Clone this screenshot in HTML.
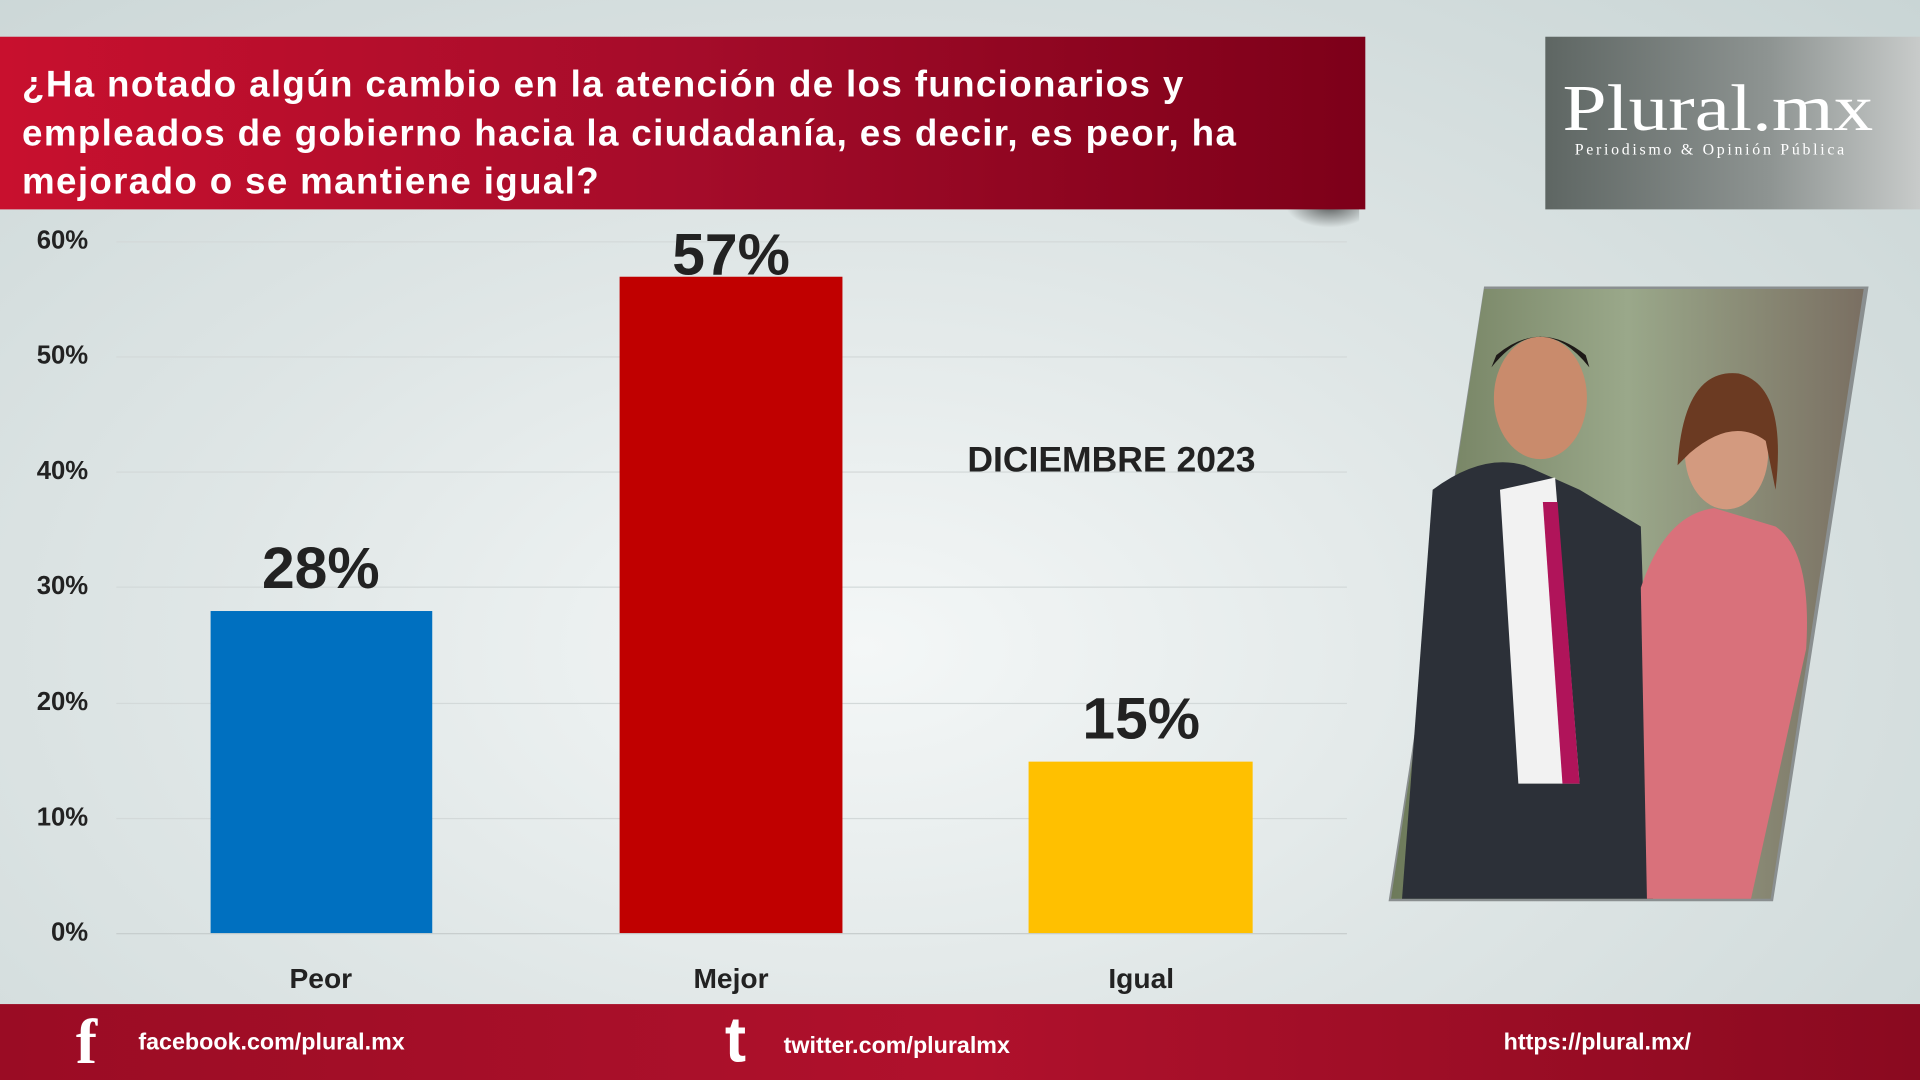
<!DOCTYPE html>
<html><head><meta charset="utf-8"><style>
html,body{margin:0;padding:0;width:1920px;height:1080px;overflow:hidden;}
#w{position:absolute;left:0;top:0;width:1568px;height:882px;transform:scale(1.22449);transform-origin:0 0;
background:radial-gradient(ellipse at 45% 60%,#f4f7f7 0%,#dfe6e6 45%,#c9d5d5 100%);font-family:"Liberation Sans",sans-serif;overflow:hidden;}
.a{position:absolute;}
.hdr{left:0;top:30px;width:1115px;height:141px;background:linear-gradient(90deg,#c8102e 0%,#a50c2a 50%,#7d0019 100%);color:#fff;font-weight:bold;font-size:30px;line-height:39.5px;padding:20px 0 0 18px;box-sizing:border-box;white-space:nowrap;letter-spacing:1.1px;}
.logo{left:1262px;top:30px;width:306px;height:141px;background:linear-gradient(90deg,#5e6663,#8e9492 60%,#c8cbca);color:#fff;}
.yl{left:0;width:72px;text-align:right;font-weight:bold;font-size:21px;color:#222;}
.g{left:95px;width:1005px;height:1px;background:#d3d9d9;}
.bar{position:absolute;}
.v{position:absolute;font-weight:bold;font-size:48px;color:#222;text-align:center;width:200px;}
.xl{position:absolute;top:786px;font-weight:bold;font-size:23px;color:#222;text-align:center;width:200px;}
.ft{left:0;top:820px;width:1568px;height:62px;background:linear-gradient(90deg,#9a0c24,#b0112c 50%,#8a0a20);color:#fff;font-weight:bold;font-size:19px;}
</style></head><body><div id="w">
<div class="a" style="left:1050px;top:168px;width:60px;height:18px;background:radial-gradient(ellipse at 60% 0,rgba(0,0,0,.6),rgba(0,0,0,0) 70%)"></div>
<div class="a hdr">¿Ha notado algún cambio en la atención de los funcionarios y<br>empleados de gobierno hacia la ciudadanía, es decir, es peor, ha<br>mejorado o se mantiene igual?</div>
<div class="a logo"><div class="a" style="left:14px;top:28px;font-family:'Liberation Serif',serif;font-size:54px;line-height:60px;transform:scaleX(1.2);transform-origin:0 0">Plural.mx</div>
<div class="a" style="left:24px;top:84px;font-family:'Liberation Serif',serif;font-size:13px;letter-spacing:2.2px">Periodismo &amp; Opinión Pública</div></div>
<div class="a yl" style="top:185px">60%</div><div class="a g" style="top:197px"></div>
<div class="a yl" style="top:279px">50%</div><div class="a g" style="top:291px"></div>
<div class="a yl" style="top:373px">40%</div><div class="a g" style="top:385px"></div>
<div class="a yl" style="top:467px">30%</div><div class="a g" style="top:479px"></div>
<div class="a yl" style="top:562px">20%</div><div class="a g" style="top:574px"></div>
<div class="a yl" style="top:656px">10%</div><div class="a g" style="top:668px"></div>
<div class="a yl" style="top:750px">0%</div><div class="a g" style="top:762px;background:#c6cccc"></div>
<div class="bar" style="left:172px;top:499px;width:181px;height:263px;background:#0070c0"></div>
<div class="bar" style="left:506px;top:226px;width:182px;height:536px;background:#c00000"></div>
<div class="bar" style="left:840px;top:622px;width:183px;height:140px;background:#ffc000"></div>
<div class="v" style="left:162px;top:437px">28%</div>
<div class="v" style="left:497px;top:181px">57%</div>
<div class="v" style="left:832px;top:560px">15%</div>
<div class="xl" style="left:162px">Peor</div>
<div class="xl" style="left:497px">Mejor</div>
<div class="xl" style="left:832px">Igual</div>
<div class="a" style="left:790px;top:360px;font-weight:bold;font-size:29px;color:#222">DICIEMBRE 2023</div>
<svg class="a" style="left:1130px;top:230px" width="400" height="512">
<defs><linearGradient id="p" x1="0" y1="0" x2="1" y2="0"><stop offset="0" stop-color="#6d7a5a"/><stop offset=".5" stop-color="#9aa88a"/><stop offset="1" stop-color="#7a6f62"/></linearGradient></defs>
<polygon points="82,4 396,4 318,506 4,506" fill="#8a8f90"/>
<polygon points="82,6 392,6 316,504 6,504" fill="url(#p)"/>
<path d="M15,504 L40,170 Q80,140 115,150 L160,170 L210,200 L220,504 Z" fill="#2c3038"/>
<ellipse cx="128" cy="95" rx="38" ry="50" fill="#c98b6c"/>
<path d="M88,70 Q128,20 168,70 L165,60 Q128,30 92,60Z" fill="#1e1a18"/>
<path d="M95,170 L140,160 L160,410 L110,410 Z" fill="#f2f2f2"/>
<path d="M130,180 L142,180 L160,410 L146,410 Z" fill="#b0145a"/>
<path d="M215,504 L210,250 Q230,190 270,185 L320,200 Q350,220 345,300 L300,504 Z" fill="#d9717b"/>
<ellipse cx="280" cy="140" rx="34" ry="46" fill="#d39a7f"/>
<path d="M240,150 Q245,70 290,75 Q330,85 320,170 L312,130 Q285,110 250,140Z" fill="#6b3a22"/>
</svg>
<div class="a ft">
<div class="a" style="left:62px;top:6px;font-size:52px;font-family:'Liberation Serif',serif;line-height:52px">f</div>
<div class="a" style="left:113px;top:21px">facebook.com/plural.mx</div>
<div class="a" style="left:592px;top:4px;font-size:52px;line-height:52px">t</div>
<div class="a" style="left:640px;top:24px">twitter.com/pluralmx</div>
<div class="a" style="left:1228px;top:21px">https://plural.mx/</div>
</div>
</div></body></html>
